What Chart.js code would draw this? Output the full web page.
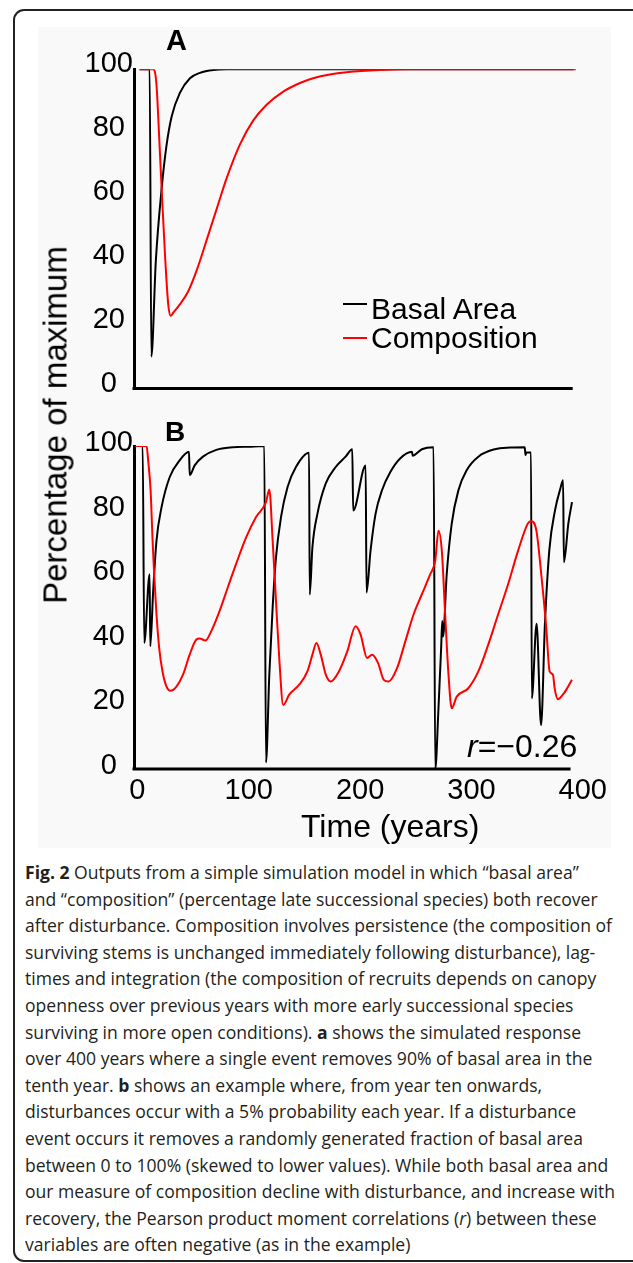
<!DOCTYPE html>
<html>
<head>
<meta charset="utf-8">
<script src="https://cdn.jsdelivr.net/npm/chart.js@4.4.1/dist/chart.umd.min.js"></script>
<style>
  html, body { margin: 0; padding: 0; background: #fff; }
  body { width: 633px; height: 1263px; position: relative; overflow: hidden;
         font-family: "Liberation Sans", Arial, sans-serif; color: #000; }
  .frame { position: absolute; left: 13px; top: 9px; width: 720px; height: 1253px;
           border: 2px solid #222; border-radius: 11px; box-sizing: border-box; }
  .figbg { position: absolute; left: 38px; top: 27px; width: 573px; height: 821px; background: #f9f9f9; }
  canvas { position: absolute; left: 38px; }
  #chartA { top: 27px; }
  #chartB { top: 410px; }
  .t { position: absolute; white-space: nowrap; line-height: 1; }
  .panel { font-weight: bold; }
  .swatch { position: absolute; width: 24px; height: 2px; }
  #ytitle { position: absolute; left: 55px; top: 425px; font-size: 33px; line-height: 33px; white-space: nowrap;
            transform: translate(-50%, -50%) rotate(-90deg); }
  #caption { position: absolute; left: 25px; top: 859px; font-family: "Open Sans", "Noto Sans", sans-serif;
             font-size: 18.5px; line-height: 26.6px; color: #231f20; transform-origin: 0 0; white-space: nowrap; }
</style>
</head>
<body>
<div class="frame"></div>
<div class="figbg"></div>
<canvas id="chartA" width="574" height="380"></canvas>
<canvas id="chartB" width="574" height="437"></canvas>

<div class="t panel" style="left:166px; top:25.5px; font-size:29px;">A</div>
<div class="t panel" style="left:165px; top:418px; font-size:28px;">B</div>

<div class="swatch" style="left:343px; top:303px; background:#000;"></div>
<div class="t" style="left:371px; top:293.6px; font-size:30px;">Basal Area</div>
<div class="swatch" style="left:343px; top:337px; background:#ff0000;"></div>
<div class="t" style="left:371px; top:322.6px; font-size:30px;">Composition</div>

<div class="t" style="left:467px; top:730px; font-size:32px;"><i>r</i>=−0.26</div>
<div class="t" style="left:301px; top:810px; font-size:32px;">Time (years)</div>
<div id="ytitle">Percentage of maximum</div>

<div id="caption">
  <div><b>Fig. 2</b> Outputs from a simple simulation model in which “basal area”</div>
  <div>and “composition” (percentage late successional species) both recover</div>
  <div>after disturbance. Composition involves persistence (the composition of</div>
  <div>surviving stems is unchanged immediately following disturbance), lag-</div>
  <div>times and integration (the composition of recruits depends on canopy</div>
  <div>openness over previous years with more early successional species</div>
  <div>surviving in more open conditions). <b>a</b> shows the simulated response</div>
  <div>over 400 years where a single event removes 90% of basal area in the</div>
  <div>tenth year. <b>b</b> shows an example where, from year ten onwards,</div>
  <div>disturbances occur with a 5% probability each year. If a disturbance</div>
  <div>event occurs it removes a randomly generated fraction of basal area</div>
  <div>between 0 to 100% (skewed to lower values). While both basal area and</div>
  <div><span id="capRef">our measure of composition decline with disturbance, and increase with</span></div>
  <div>recovery, the Pearson product moment correlations (<i>r</i>) between these</div>
  <div>variables are often negative (as in the example)</div>
</div>

<script>
// Panel A: single disturbance
const basalAYears  = [2, 11, 12.5, 16.5, 21.7, 26, 30.7, 38, 47, 56, 68, 80, 390];
const basalAValues = [100, 100, 10, 40, 62.6, 76, 85.3, 92.6, 97.2, 98.9, 99.8, 100, 100];
const compAYears  = [2, 14, 17, 19.6, 21.7, 24.7, 27.6, 29.8, 32.1, 38, 45.5, 53, 61.9, 70.9, 79.8, 91.7, 103.6, 115.5, 130.4, 145.3, 157, 172, 187, 217, 240, 392];
const compAValues = [100, 100, 95.6, 78, 62.6, 41.9, 26.4, 22.8, 23.8, 26.4, 30.5, 37, 46.5, 56.3, 65.9, 76.5, 84, 88.9, 93, 95.7, 97.2, 98.4, 99.1, 99.8, 100, 100];

// Panel B: random disturbances
const basalBYears  = [-2, 4.8, 6.2, 11, 11.6, 14.2, 17.2, 21.7, 29.1, 38.1, 46.4, 47, 51.5, 58.9, 70.9, 85.7, 100, 114, 115.5, 118.5, 121.5, 124.5, 129, 134.9, 142.4, 154.2, 154.8, 157.2, 161.7, 169.2, 178.1, 187, 193, 193.8, 205, 205.8, 209.4, 213.9, 219.7, 227.3, 236.2, 246.6, 247.2, 255.5, 266, 267.5, 270.4, 272.8, 273.8, 274.5, 277.8, 282.3, 288.3, 295.7, 306.2, 321.1, 335, 347.9, 348.5, 349.5, 353.5, 354.2, 358.5, 362.5, 366, 370, 375, 380, 382.3, 383, 387, 390.3];
const basalBValues = [100, 100, 39, 60.3, 38, 55, 70.7, 81, 90.4, 95.6, 98.2, 91, 94, 96.7, 98.8, 99.6, 99.8, 100, 2, 29.2, 50, 65.5, 78, 87.3, 93.5, 97.9, 54, 68.6, 79, 88.4, 93.5, 96.7, 99, 80, 94, 54.6, 67.6, 79, 86.3, 92, 96.2, 98.2, 97, 99, 99.6, 0, 18.8, 37.5, 45.8, 41, 60.3, 76, 86.3, 92.5, 96.7, 99, 99.5, 99.6, 97.2, 98, 98, 21.9, 45, 13.6, 45, 68, 80, 87, 89.4, 64, 76, 82.6];
const compBYears  = [-2, 8.3, 9.7, 11.9, 13.7, 15.1, 17.2, 19.6, 22.6, 26.2, 29.8, 35.1, 41, 47, 53, 55.9, 61.3, 66.4, 73.8, 81.2, 88.7, 97.7, 106.6, 115.5, 118.5, 121.5, 124.5, 127.4, 131, 136.4, 145.3, 152.7, 157.2, 160.8, 164.7, 169.2, 173.6, 181, 188.5, 196, 200.4, 206.3, 210.8, 216.2, 221.3, 225.7, 233.2, 240.7, 248.1, 255.5, 263, 267.5, 270.4, 273.4, 276.4, 279.4, 282.3, 286.8, 297.2, 306.2, 315.1, 324, 332.9, 341.9, 350.8, 353.8, 358.3, 362.7, 367.2, 370.2, 373.2, 374.7, 377.7, 382.1, 385.1, 390.2];
const compBValues = [100, 100, 95.6, 86.3, 70.7, 60.3, 47.9, 37.5, 30.2, 25.5, 24.2, 25.5, 29.2, 35.4, 40.1, 40.4, 39.8, 42.7, 48.9, 56.2, 63.5, 71.7, 78, 82.6, 86.5, 70.7, 52, 34.4, 19.8, 23, 26.1, 30.2, 35.4, 39, 35.4, 29.2, 27.1, 30.2, 36.4, 44.2, 41.7, 34.4, 35.4, 32.8, 27.6, 27.1, 31.2, 39.6, 47.9, 54.1, 60.3, 64.5, 73.8, 67.6, 47.9, 29.2, 18.8, 22.4, 25, 30.2, 38.5, 47.9, 57.2, 67.6, 76.1, 76.7, 73.8, 60.3, 43.7, 30.2, 29.2, 25, 21.6, 23, 24.5, 27.6];

const xTickValues = [0, 100, 200, 300, 400];
const yTickValues = [0, 20, 40, 60, 80, 100];
const xMin = -3, xMax = 400, xAxisEnd = 389;

const tickFont = { family: '"Liberation Sans", Arial, sans-serif', size: 29 };

function toPoints(xs, ys) {
  return xs.map((x, i) => ({ x: x, y: ys[i] }));
}

// x axis line stops at the end of the data, not at 400
const xAxisLine = {
  id: 'xAxisLine',
  afterDraw(chart) {
    const { ctx, chartArea, scales } = chart;
    ctx.save();
    ctx.strokeStyle = '#000';
    ctx.lineWidth = 3;
    ctx.beginPath();
    ctx.moveTo(chartArea.left - 1.5, chartArea.bottom);
    ctx.lineTo(scales.x.getPixelForValue(xAxisEnd), chartArea.bottom);
    ctx.stroke();
    ctx.restore();
  }
};

function makeChart(id, basalX, basalY, compX, compY, o) {
  return new Chart(document.getElementById(id), {
    type: 'line',
    data: {
      datasets: [
        { label: 'Basal Area', data: toPoints(basalX, basalY), borderColor: '#000000', order: 2 },
        { label: 'Composition', data: toPoints(compX, compY), borderColor: '#ff0000', order: 1 }
      ]
    },
    options: {
      responsive: false,
      animation: false,
      events: [],
      elements: {
        point: { radius: 0 },
        line: { borderWidth: 2, cubicInterpolationMode: 'monotone', fill: false }
      },
      layout: { padding: { top: o.top, right: 27, left: 0, bottom: 0 } },
      plugins: { legend: { display: false }, tooltip: { enabled: false } },
      scales: {
        x: {
          type: 'linear', min: xMin, max: xMax,
          grid: { display: false, drawTicks: false },
          border: { display: false },
          afterBuildTicks: (s) => { s.ticks = xTickValues.map(v => ({ value: v })); },
          afterFit: (s) => { s.height = o.xHeight; },
          ticks: { display: o.showX, color: '#000', font: tickFont, padding: 5, maxRotation: 0 }
        },
        y: {
          min: 0, max: 100,
          grid: { display: false, drawTicks: false },
          border: { display: true, color: '#000', width: 3 },
          afterBuildTicks: (s) => { s.ticks = yTickValues.map(v => ({ value: v })); },
          afterFit: (s) => { s.width = 96; },
          ticks: { color: '#000', font: tickFont, padding: 1, crossAlign: 'center', labelOffset: o.labelOffset }
        }
      }
    },
    plugins: [xAxisLine]
  });
}

makeChart('chartA', basalAYears, basalAValues, compAYears, compAValues,
  { top: 42.3, xHeight: 15, showX: false, labelOffset: -5 });
makeChart('chartB', basalBYears, basalBValues, compBYears, compBValues,
  { top: 36, xHeight: 78, showX: true, labelOffset: -3 });

// squeeze the caption to the width of the original lines
function fitCaption() {
  const cap = document.getElementById('caption');
  const w = document.getElementById('capRef').getBoundingClientRect().width;
  cap.style.transform = 'scaleX(' + (590 / w) + ')';
}
if (document.fonts && document.fonts.ready) {
  document.fonts.ready.then(fitCaption);
} else {
  fitCaption();
}
</script>
</body>
</html>
